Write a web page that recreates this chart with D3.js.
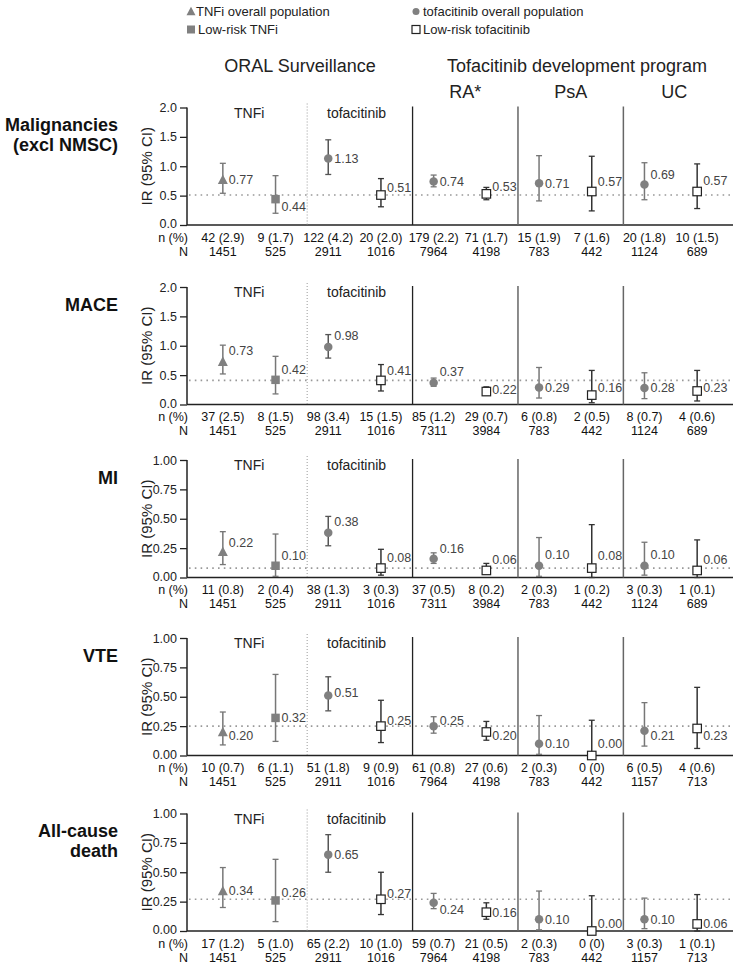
<!DOCTYPE html>
<html><head><meta charset="utf-8">
<script src="https://cdn.jsdelivr.net/npm/d3@7"></script>
<style>body{margin:0;background:#fff}svg{display:block;font-family:"Liberation Sans",Arial,sans-serif}</style>
</head><body>
<script>
// ---------------- DATA ----------------
const columns = ["TNFi overall","Low-risk TNFi","tofacitinib overall","Low-risk tofacitinib",
  "RA overall","RA low-risk","PsA overall","PsA low-risk","UC overall","UC low-risk"];
const markerTypes = ["triangle","square","circle","open","circle","open","circle","open","circle","open"];
const outcomeLabels = [["Malignancies","(excl NMSC)"],["MACE"],["MI"],["VTE"],["All-cause","death"]];
const yMaxes = [2, 2, 1, 1, 1];
const ticks2 = [0, 0.5, 1.0, 1.5, 2.0];
const ticks1 = [0, 0.25, 0.5, 0.75, 1.0];
const refValues = [0.51, 0.41, 0.08, 0.25, 0.27];

const malignIR = [0.77,0.44,1.13,0.51,0.74,0.53,0.71,0.57,0.69,0.57];
const malignLo = [0.54,0.20,0.86,0.31,0.65,0.43,0.41,0.24,0.43,0.28];
const malignHi = [1.05,0.84,1.45,0.79,0.85,0.64,1.18,1.17,1.06,1.04];
const malignN  = ["42 (2.9)","9 (1.7)","122 (4.2)","20 (2.0)","179 (2.2)","71 (1.7)","15 (1.9)","7 (1.6)","20 (1.8)","10 (1.5)"];
const malignTot = ["1451","525","2911","1016","7964","4198","783","442","1124","689"];

const maceIR = [0.73,0.42,0.98,0.41,0.37,0.22,0.29,0.16,0.28,0.23];
const maceLo = [0.52,0.18,0.79,0.23,0.31,0.16,0.11,0.03,0.10,0.06];
const maceHi = [1.01,0.82,1.19,0.68,0.45,0.30,0.63,0.58,0.54,0.58];
const maceN  = ["37 (2.5)","8 (1.5)","98 (3.4)","15 (1.5)","85 (1.2)","29 (0.7)","6 (0.8)","2 (0.5)","8 (0.7)","4 (0.6)"];
const maceTot = ["1451","525","2911","1016","7311","3984","783","442","1124","689"];

const miIR = [0.22,0.10,0.38,0.08,0.16,0.06,0.10,0.08,0.10,0.06];
const miLo = [0.11,0.01,0.27,0.02,0.12,0.03,0.01,0.00,0.02,0.00];
const miHi = [0.39,0.37,0.52,0.24,0.21,0.12,0.34,0.45,0.30,0.32];
const miN  = ["11 (0.8)","2 (0.4)","38 (1.3)","3 (0.3)","37 (0.5)","8 (0.2)","2 (0.3)","1 (0.2)","3 (0.3)","1 (0.1)"];
const miTot = ["1451","525","2911","1016","7311","3984","783","442","1124","689"];

const vteIR = [0.20,0.32,0.51,0.25,0.25,0.20,0.10,0.00,0.21,0.23];
const vteLo = [0.09,0.12,0.38,0.11,0.19,0.13,0.01,0.00,0.08,0.06];
const vteHi = [0.37,0.69,0.67,0.47,0.33,0.29,0.34,0.30,0.45,0.58];
const vteN  = ["10 (0.7)","6 (1.1)","51 (1.8)","9 (0.9)","61 (0.8)","27 (0.6)","2 (0.3)","0 (0)","6 (0.5)","4 (0.6)"];
const vteTot = ["1451","525","2911","1016","7964","4198","783","442","1157","713"];

const deathIR = [0.34,0.26,0.65,0.27,0.24,0.16,0.10,0.00,0.10,0.06];
const deathLo = [0.20,0.08,0.50,0.14,0.19,0.10,0.01,0.00,0.02,0.00];
const deathHi = [0.54,0.61,0.82,0.50,0.32,0.24,0.34,0.30,0.28,0.31];
const deathN  = ["17 (1.2)","5 (1.0)","65 (2.2)","10 (1.0)","59 (0.7)","21 (0.5)","2 (0.3)","0 (0)","3 (0.3)","1 (0.1)"];
const deathTot = ["1451","525","2911","1016","7964","4198","783","442","1157","713"];

const irs = [malignIR, maceIR, miIR, vteIR, deathIR];
const los = [malignLo, maceLo, miLo, vteLo, deathLo];
const his = [malignHi, maceHi, miHi, vteHi, deathHi];
const nLabels = [malignN, maceN, miN, vteN, deathN];
const totLabels = [malignTot, maceTot, miTot, vteTot, deathTot];

// ---------------- LAYOUT ----------------
const labelNudge = [
  [0,7,0,-7,0,-7,0,-10,-10,-11],
  [-11,-10,-11,-10,-11,-2,0,-7,0,-3],
  [-9,-10,-11,-10,-10,-11,-11,-12,-11,-11],
  [4,0,-3,-6,-6,4,0,-12,5,7],
  [0,-8,0,-6,7,0,0,-7,0,0]
];
const W = 736, H = 965;
const panelTops = [107.5, 287, 460, 638, 813.5];
const panelH = 117.5;
const axisLeft = 187, axisRight = 733;
const gray = "#808080";

const svg = d3.select("body").append("svg").attr("width", W).attr("height", H);
const x = d3.scalePoint().domain(d3.range(columns.length)).range([axisLeft, axisRight]).padding(0.68);
const step = x.step();
const sepX = i => x(i) + step * 0.6;

// legend
const leg = svg.append("g").attr("font-size", 13).attr("fill", "#222");
function drawMarker(g, type, cx, cy, s) {
  if (type === "triangle") {
    const h = s * 0.95;
    g.append("path").attr("d", `M${cx},${cy - h/2 - 1}L${cx + s/2 + 0.5},${cy + h/2}L${cx - s/2 - 0.5},${cy + h/2}Z`).attr("fill", gray);
  } else if (type === "square") {
    g.append("rect").attr("x", cx - s/2).attr("y", cy - s/2).attr("width", s).attr("height", s).attr("fill", gray);
  } else if (type === "circle") {
    g.append("circle").attr("cx", cx).attr("cy", cy).attr("r", s/2).attr("fill", gray);
  } else {
    g.append("rect").attr("x", cx - s/2).attr("y", cy - s/2).attr("width", s).attr("height", s)
      .attr("fill", "#fff").attr("stroke", "#222").attr("stroke-width", 1.2);
  }
}
const legendItems = [
  {t: "triangle", label: "TNFi overall population", lx: 191, row: 0},
  {t: "circle", label: "tofacitinib overall population", lx: 416, row: 0},
  {t: "square", label: "Low-risk TNFi", lx: 191, row: 1},
  {t: "open", label: "Low-risk tofacitinib", lx: 416, row: 1}
];
legendItems.forEach(d => {
  const by = 16 + d.row * 18;
  drawMarker(leg, d.t, d.lx, by - 4.5, d.t === "circle" ? 7 : 8);
  leg.append("text").attr("x", d.lx + (d.t === "triangle" ? 5 : 7)).attr("y", by).text(d.label);
});

// headers
const hdr = svg.append("g").attr("font-size", 18).attr("fill", "#222").attr("text-anchor", "middle");
hdr.append("text").attr("x", 300).attr("y", 72).text("ORAL Surveillance");
hdr.append("text").attr("x", 577).attr("y", 72).text("Tofacitinib development program");
const sections = [["RA*", sepX(3), sepX(5)], ["PsA", sepX(5), sepX(7)], ["UC", sepX(7), axisRight - 8]];
sections.forEach(s => hdr.append("text").attr("x", (s[1] + s[2]) / 2).attr("y", 98).text(s[0]));

// panels
outcomeLabels.forEach((lab, p) => {
  const top = panelTops[p], bottom = top + panelH;
  const y = d3.scaleLinear().domain([0, yMaxes[p]]).range([bottom, top]);
  const g = svg.append("g");

  // row label
  lab.forEach((line, k) => {
    g.append("text").attr("x", 118).attr("y", top + 23.5 + k * 20).attr("text-anchor", "end")
      .attr("font-size", 18).attr("font-weight", "bold").attr("fill", "#111").text(line);
  });
  // y title
  g.append("text").attr("transform", `translate(152,${(top + bottom) / 2}) rotate(-90)`)
    .attr("text-anchor", "middle").attr("font-size", 15).attr("fill", "#222").text("IR (95% CI)");

  // y axis
  const tks = yMaxes[p] === 2 ? ticks2 : ticks1;
  const fmt = yMaxes[p] === 2 ? d3.format(".1f") : d3.format(".2f");
  const ax = g.append("g").attr("transform", `translate(${axisLeft},0)`)
    .call(d3.axisLeft(y).tickValues(tks).tickFormat(fmt).tickSize(7).tickPadding(3));
  ax.select(".domain").attr("stroke", "#222").attr("stroke-width", 1.5).attr("d", `M0,${top}V${bottom}`);
  ax.selectAll(".tick line").attr("stroke", "#222").attr("stroke-width", 1.3);
  ax.selectAll(".tick text").attr("font-size", 12.5).attr("fill", "#222")
    .attr("font-family", "Liberation Sans, Arial, sans-serif")
    .attr("dy", (d) => d === 0 ? "0.2em" : "0.32em");

  // x axis line
  g.append("line").attr("x1", axisLeft).attr("x2", axisRight).attr("y1", bottom).attr("y2", bottom)
    .attr("stroke", "#222").attr("stroke-width", 1.5);

  // reference dotted line
  g.append("line").attr("x1", axisLeft + 2).attr("x2", axisRight).attr("y1", y(refValues[p])).attr("y2", y(refValues[p]))
    .attr("stroke", "#999").attr("stroke-width", 1.6).attr("stroke-dasharray", "1.6,4.2");

  // separators
  g.append("line").attr("x1", sepX(1)).attr("x2", sepX(1)).attr("y1", top - 4).attr("y2", bottom)
    .attr("stroke", "#999").attr("stroke-width", 1).attr("stroke-dasharray", "1,2");
  [3, 5, 7].forEach((i, k) => {
    g.append("line").attr("x1", sepX(i)).attr("x2", sepX(i)).attr("y1", top - 1).attr("y2", bottom)
      .attr("stroke", k === 0 ? "#222" : "#666").attr("stroke-width", k === 0 ? 1.3 : 1.5);
  });

  // TNFi / tofacitinib subtitles
  g.append("text").attr("x", (x(0) + x(1)) / 2).attr("y", top + 10).attr("text-anchor", "middle")
    .attr("font-size", 14).attr("fill", "#222").text("TNFi");
  g.append("text").attr("x", (x(2) + x(3)) / 2 + 2).attr("y", top + 10).attr("text-anchor", "middle")
    .attr("font-size", 14).attr("fill", "#222").text("tofacitinib");

  // error bars, markers, labels
  columns.forEach((c, i) => {
    const cx = x(i), t = markerTypes[i];
    const col = t === "open" ? "#333" : (i === 2 ? "#555" : "#777");
    const y0 = y(los[p][i]), y1 = y(his[p][i]);
    g.append("line").attr("x1", cx).attr("x2", cx).attr("y1", y0).attr("y2", y1).attr("stroke", col).attr("stroke-width", 1.5);
    [y0, y1].forEach(yy => g.append("line").attr("x1", cx - 3).attr("x2", cx + 3).attr("y1", yy).attr("y2", yy)
      .attr("stroke", col).attr("stroke-width", 1.3));
    const cy = y(irs[p][i]);
    drawMarker(g, t, cx, cy, t === "circle" ? 8.5 : (t === "triangle" ? 9 : 8.5));
    g.append("text").attr("x", cx + 6).attr("y", cy + labelNudge[p][i]).attr("dy", "0.35em")
      .attr("font-size", 12.5).attr("fill", "#444").text(irs[p][i].toFixed(2));
    g.append("text").attr("x", cx).attr("y", bottom + 16.5).attr("text-anchor", "middle")
      .attr("font-size", 12.5).attr("fill", "#111").text(nLabels[p][i]);
    g.append("text").attr("x", cx).attr("y", bottom + 30.5).attr("text-anchor", "middle")
      .attr("font-size", 12.5).attr("fill", "#111").text(totLabels[p][i]);
  });
  g.append("text").attr("x", 188).attr("y", bottom + 16.5).attr("text-anchor", "end")
    .attr("font-size", 12.5).attr("fill", "#111").text("n (%)");
  g.append("text").attr("x", 188).attr("y", bottom + 30.5).attr("text-anchor", "end")
    .attr("font-size", 12.5).attr("fill", "#111").text("N");
});
</script>
</body></html>
